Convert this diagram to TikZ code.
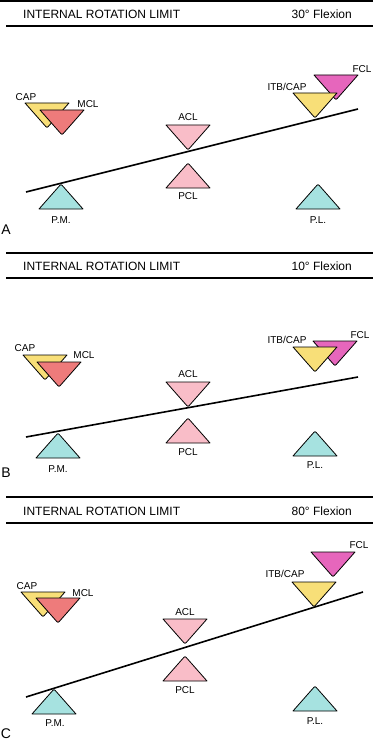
\documentclass[tikz,border=0pt]{standalone}
\usepackage{fontspec}
\setmainfont{Liberation Sans}
\usetikzlibrary{calc}

\begin{document}
\begin{tikzpicture}[x=1pt,y=-1pt,
 ttl/.style={font=\fontsize{12}{14}\selectfont,inner sep=0pt},
 lbl/.style={font=\fontsize{10}{12}\selectfont,inner sep=0pt},
 tag/.style={font=\fontsize{14}{16}\selectfont,inner sep=0pt},
 rule/.style={line width=1.8pt},
 beam/.style={line width=1.6pt}]

\newcommand{\lig}[4][ffffff] % [color][x][y][dir]
{
 \definecolor{main}{HTML}{#1}
 \begin{scope}[shift={(#2,#3)},yscale=#4]
  \draw[fill=main,line width=.8pt,line join=round] (-22,-25) -- (22,-25)
   -- (2.6,-3) .. controls (0,0) .. (-2.6,-3) -- cycle;
 \end{scope}
}

\def\yel {F8DF78} \def\sal {EE7B7B} \def\pnk {F9BDC8}
\def\cyn {A6E2E0} \def\mag {E666BC}
\useasboundingbox (0,0) rectangle (373,741);

% A: 30 degrees
\begin{scope}
 \draw[rule] (0,1) -- (373,1);
 \node[ttl,anchor=west] (titleA) at (23,14) {INTERNAL ROTATION LIMIT};
 \node[ttl,anchor=east] (flexA) at (352,14) {30° Flexion};
 \draw[rule] (6,26) -- (373,26);
 \lig[\yel]{47}{128}{1}  \node[lbl] (capA) at (26,97) {CAP};
 \lig[\sal]{62}{135}{1}  \node[lbl] (mclA) at (88,104) {MCL};
 \lig[\mag]{336}{100}{1} \node[lbl] (fclA) at (362,69) {FCL};
 \lig[\yel]{315}{118}{1} \node[lbl] (itbA) at (287,87) {ITB/CAP};
 \lig[\pnk]{188}{150}{1} \node[lbl] (aclA) at (188,117) {ACL};
 \lig[\pnk]{188}{163}{-1} \node[lbl] (pclA) at (188,196) {PCL};
 \lig[\cyn]{61}{184}{-1} \node[lbl] (pmA) at (61,220) {P.M.};
 \lig[\cyn]{318}{184}{-1} \node[lbl] (plA) at (318,220) {P.L.};
 \coordinate (lA) at (26,192);
 \coordinate (rA) at (358,109);
 \draw[beam] (lA) -- (rA);
 \node[tag] (A) at (6,230) {A};
\end{scope}

% B: 10 degrees
\begin{scope}[shift={(0,252)}]
 \draw[rule] (6,1) -- (373,1);
 \node[ttl,anchor=west] (titleB) at (23,14) {INTERNAL ROTATION LIMIT};
 \node[ttl,anchor=east] (flexB) at (352,14) {10° Flexion};
 \draw[rule] (6,26) -- (373,26);
 \lig[\yel]{45}{128}{1}  \node[lbl] (capB) at (25,96) {CAP};
 \lig[\sal]{59}{135}{1}  \node[lbl] (mclB) at (84,103) {MCL};
 \lig[\mag]{335}{114}{1} \node[lbl] (fclB) at (360,83) {FCL};
 \lig[\yel]{315}{120}{1} \node[lbl] (itbB) at (287,88) {ITB/CAP};
 \lig[\pnk]{188}{155}{1} \node[lbl] (aclB) at (188,122) {ACL};
 \lig[\pnk]{188}{166}{-1} \node[lbl] (pclB) at (188,200) {PCL};
 \lig[\cyn]{58}{181}{-1} \node[lbl] (pmB) at (58,217) {P.M.};
 \lig[\cyn]{315}{179}{-1} \node[lbl] (plB) at (315,213) {P.L.};
 \coordinate (lB) at (26,185);
 \coordinate (rB) at (358,125);
 \draw[beam] (lB) -- (rB);
 \node[tag] (B) at (6,221) {B};
\end{scope}

% C: 80 degrees
\begin{scope}[shift={(0,496)}]
 \draw[rule] (6,1) -- (373,1);
 \node[ttl,anchor=west] (titleC) at (23,15) {INTERNAL ROTATION LIMIT};
 \node[ttl,anchor=east] (flexC) at (352,15) {80° Flexion};
 \draw[rule] (6,27) -- (373,27);
 \lig[\yel]{43}{121}{1}  \node[lbl] (capC) at (27,90) {CAP};
 \lig[\sal]{58}{127}{1}  \node[lbl] (mclC) at (83,97) {MCL};
 \lig[\mag]{333}{81}{1}  \node[lbl] (fclC) at (359,49) {FCL};
 \lig[\yel]{314}{111}{1} \node[lbl] (itbC) at (285,78) {ITB/CAP};
 \lig[\pnk]{185}{148}{1} \node[lbl] (aclC) at (185,116) {ACL};
 \lig[\pnk]{185}{160}{-1} \node[lbl] (pclC) at (185,194) {PCL};
 \lig[\cyn]{54}{193}{-1} \node[lbl] (pmC) at (55,227) {P.M.};
 \lig[\cyn]{315}{190}{-1} \node[lbl] (plC) at (315,225) {P.L.};
 \coordinate (lC) at (26,201);
 \coordinate (rC) at (363,96);
 \draw[beam] (lC) -- (rC);
 \node[tag] (C) at (6,238) {C};
\end{scope}

\end{tikzpicture}
\end{document}
